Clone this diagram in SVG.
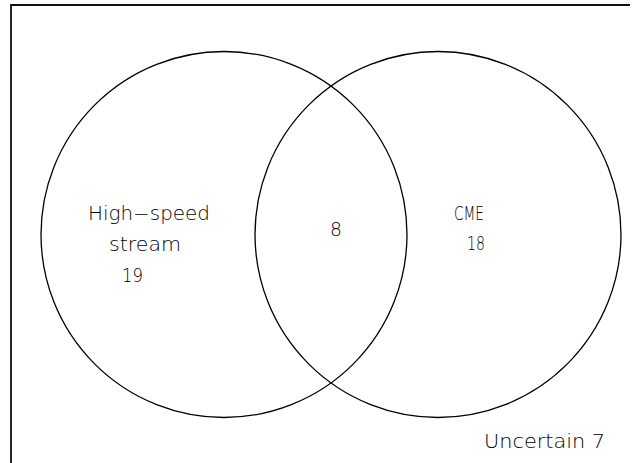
<svg xmlns="http://www.w3.org/2000/svg" width="640" height="463" viewBox="0 0 640 463">
<style>
.frame{fill:none;stroke:#111;stroke-width:1.8}
.c{fill:none;stroke:#000;stroke-width:1.3}
text{font-family:"DejaVu Sans","Liberation Sans",sans-serif;font-weight:200;font-size:19px;fill:#000}
</style>
<rect width="640" height="463" fill="#fff"/>
<g id="frame"><path class="frame" d="M11,463 V5 H630"/></g>
<g id="hss">
<circle class="c" cx="224" cy="234.5" r="183"/>
<text x="88" y="220" textLength="122" lengthAdjust="spacingAndGlyphs">High−speed</text>
<text x="109" y="251" textLength="72" lengthAdjust="spacingAndGlyphs">stream</text>
<text x="122" y="282" textLength="21" lengthAdjust="spacingAndGlyphs">19</text>
</g>
<g id="cme">
<circle class="c" cx="438" cy="234.5" r="183"/>
<text x="454" y="220" textLength="30" lengthAdjust="spacingAndGlyphs">CME</text>
<text x="467" y="250" textLength="18" lengthAdjust="spacingAndGlyphs">18</text>
</g>
<g id="both"><text x="330" y="236" textLength="12" lengthAdjust="spacingAndGlyphs">8</text></g>
<g id="uncertain"><text x="484" y="448" textLength="121" lengthAdjust="spacingAndGlyphs">Uncertain 7</text></g>
<g id="connectors"></g>
</svg>
